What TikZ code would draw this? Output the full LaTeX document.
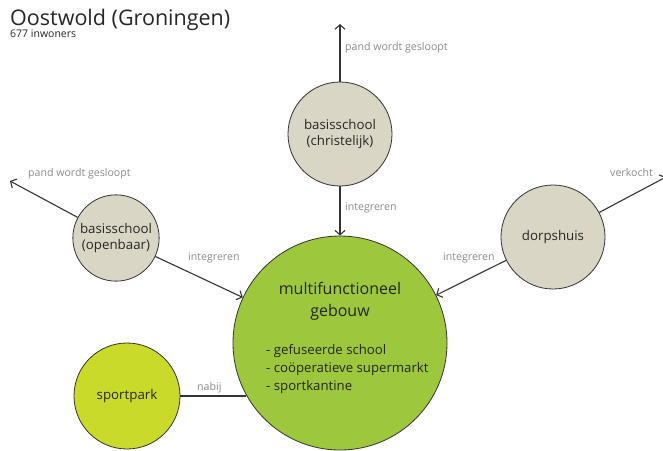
\documentclass[tikz,border=0pt]{standalone}
\usepackage{fontspec}
\setmainfont{Open Sans}
\usetikzlibrary{shapes,arrows.meta}
\definecolor{oudgrijs}{HTML}{D9D6C5}
\definecolor{mfgroen}{HTML}{9DC83E}
\definecolor{sportgeel}{HTML}{C9DA2A}
\definecolor{lijn}{HTML}{333333}
\definecolor{lbltekst}{HTML}{8A8A8A}
\tikzstyle{pand} = [circle,draw=lijn,line width=0.8pt,fill=oudgrijs,text centered,align=center,font=\fontsize{13.3}{16.5}\selectfont,text=black!85]
\tikzstyle{mfg} = [circle,draw=lijn,line width=0.8pt,fill=mfgroen,minimum size=214pt]
\tikzstyle{lbl} = [anchor=base west,inner sep=0pt,text=lbltekst,font=\fontsize{10.6}{12}\selectfont]
\tikzstyle{pijl} = [-{Straight Barb[length=4.5pt,width=10pt]},draw=lijn,line width=1.1pt]

\begin{document}
\begin{tikzpicture}[x=1pt,y=-1pt]
    	\useasboundingbox (0,0) rectangle (663,450);
    	
    	\node[anchor=base west,inner sep=0pt,text=black!85,font=\fontsize{21.5}{24}\selectfont](titel) at (10,25) {Oostwold (Groningen)};
    	\node[anchor=base west,inner sep=0pt,text=black!85,font=\fontsize{10.5}{12}\selectfont](inwoners) at (10,37.5) {677 inwoners};
    	
    	\node[mfg](mfgebouw) at (340,343) {};
    	\node[align=center,text=black!85,font=\fontsize{16}{22}\selectfont](mfnaam) at (340,301) {multifunctioneel\\gebouw};
    	\node[align=left,anchor=west,inner sep=0pt,text=black!85,font=\fontsize{13.2}{18}\selectfont](mflijst) at (266,369) {- gefuseerde school\\- co\"operatieve supermarkt\\- sportkantine};
    	
    	\node[pand,minimum size=104pt](christelijk) at (340,134) {basisschool\\(christelijk)};
    	\coordinate (christelijkweg) at (340,24);
    	\draw[pijl] (christelijk) -- (christelijkweg);
    	\draw[pijl] (christelijk) -- (mfgebouw);
    	
    	\node[pand,minimum size=83pt](openbaar) at (116,238) {basisschool\\(openbaar)};
    	\coordinate (openbaarweg) at (10,181);
    	\draw[pijl] (openbaar) -- (openbaarweg);
    	\draw[pijl] (openbaar) -- (mfgebouw);
    	
    	\node[pand,minimum size=104pt](dorpshuis) at (553,237) {dorpshuis};
    	\coordinate (dorpshuisweg) at (666,177);
    	\draw[pijl] (dorpshuis) -- (dorpshuisweg);
    	\draw[pijl] (dorpshuis) -- (mfgebouw);
    	
    	\node[pand,fill=sportgeel,minimum size=106pt](sportpark) at (127,396) {sportpark};
    	\draw[draw=lijn,line width=1.1pt] (sportpark.east) -- (sportpark.east -| mfgebouw.209.7);
    	
    	\node[lbl](lblchristelijkweg) at (345,50) {pand wordt gesloopt};
    	\node[lbl](lblchristelijk) at (345,210) {integreren};
    	\node[lbl](lblopenbaarweg) at (28,176) {pand wordt gesloopt};
    	\node[lbl](lblopenbaar) at (188,260) {integreren};
    	\node[lbl](lbldorpshuisweg) at (610,176) {verkocht};
    	\node[lbl](lbldorpshuis) at (443,260) {integreren};
    	\node[lbl](lblsportpark) at (197,390) {nabij};
    	
\end{tikzpicture}
\end{document}
